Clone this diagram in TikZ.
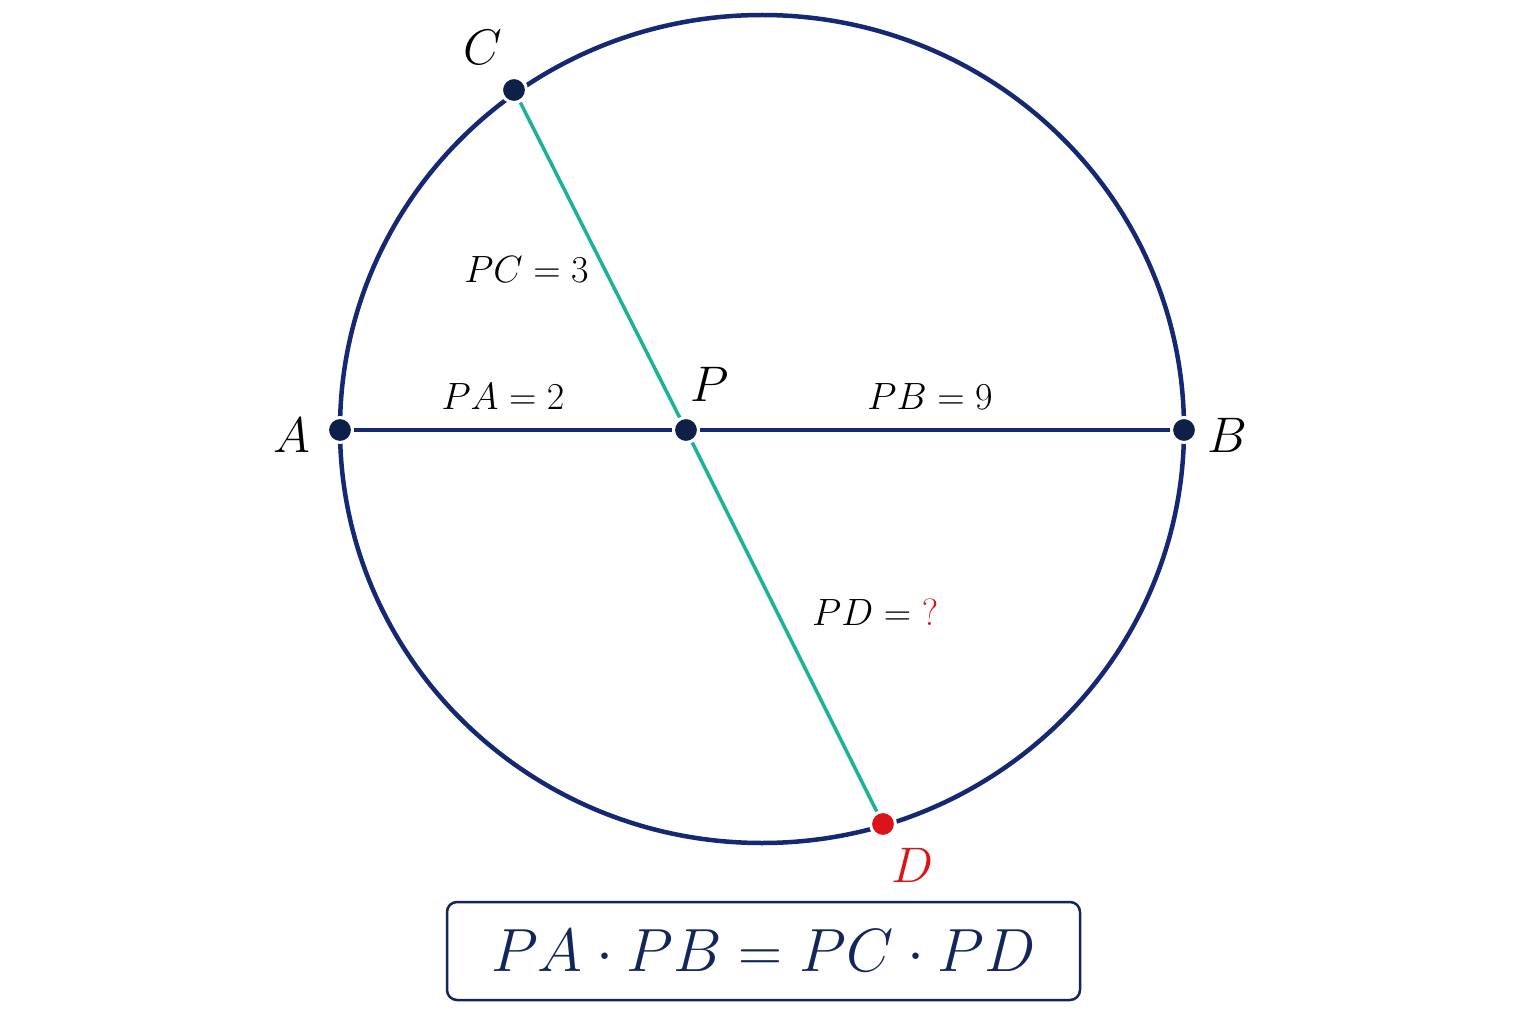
\RequirePackage{fix-cm}
\documentclass[tikz,border=0pt]{standalone}
\usetikzlibrary{positioning}
\definecolor{navy}{RGB}{20,40,115}
\definecolor{dotnavy}{RGB}{12,32,72}
\definecolor{chordteal}{RGB}{26,178,152}
\definecolor{qred}{RGB}{218,20,24}
\definecolor{eqnavy}{RGB}{18,38,92}

\begin{document}
\begin{tikzpicture}[x=1pt,y=-1pt,
  pt/.style={circle,fill=dotnavy,draw=white,line width=3pt,inner sep=0pt,minimum size=25pt},
  lbl/.style={font=\fontsize{50}{60}\selectfont},
  seg/.style={text=black,font=\fontsize{38}{46}\selectfont},
  ab/.style={navy,line width=3.5pt},
  cd/.style={chordteal,line width=3.5pt}]
\useasboundingbox (0,0) rectangle (1536,1024);
\draw[navy,line width=4.5pt] (762,429) ellipse [x radius=422, y radius=414];
\node (A) [pt] at (340,430) {};
\node (B) [pt] at (1184,430) {};
\node (P) [pt] at (686,430) {};
\node (C) [pt] at (514,90) {};
\node (D) [pt,fill=qred] at (883,824) {};
\draw[ab] (A) -- node[seg,above=15pt,xshift=-10pt] {$PA = 2$} (P);
\draw[ab] (P) -- node[seg,above=15pt,xshift=-5pt] {$PB = 9$} (B);
\draw[cd] (C) -- node[seg,pos=0.53,left=11pt] {$PC = 3$} (P);
\draw[cd] (P) -- node[seg,pos=0.46,right=30pt] {$PD = \textcolor{qred}{?}$} (D);
\node (Clbl) [lbl,above left=12pt and -2pt of C] {$C$};
\node (Albl) [lbl,left=12pt of A,yshift=-5pt] {$A$};
\node (Blbl) [lbl,right=6pt of B,yshift=-5pt] {$B$};
\node (Plbl) [lbl,above right=15pt and -9pt of P] {$P$};
\node (Dlbl) [lbl,below right=11pt and -5pt of D,text=qred] {$D$};
\node (eq) [draw=eqnavy,rounded corners=10pt,line width=2.5pt,minimum width=633pt,minimum height=98pt,
  text=eqnavy,font=\fontsize{61}{73}\selectfont] at (763.5,951) {$PA \cdot PB = PC \cdot PD$};
\end{tikzpicture}
\end{document}
